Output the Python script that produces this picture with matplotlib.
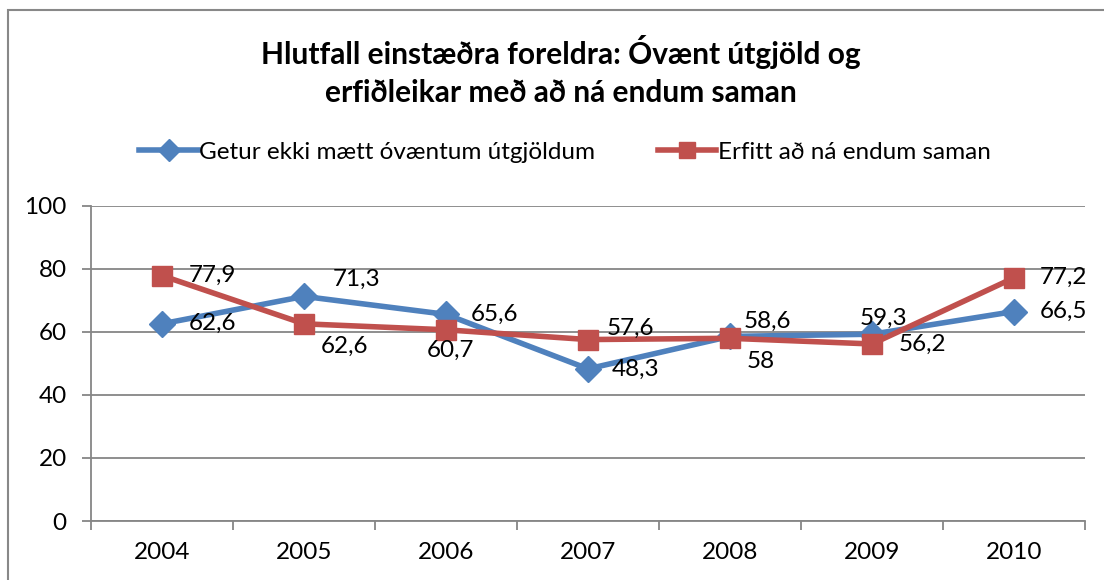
import matplotlib
matplotlib.use("Agg")
import matplotlib.pyplot as plt
from matplotlib.patches import Rectangle

plt.rcParams['font.family'] = ['Lato', 'DejaVu Sans']

years = ["2004", "2005", "2006", "2007", "2008", "2009", "2010"]
unexpected = [62.6, 71.3, 65.6, 48.3, 58.6, 59.3, 66.5]
hardship = [77.9, 62.6, 60.7, 57.6, 58.0, 56.2, 77.2]
unexpected_labels = ["62,6", "71,3", "65,6", "48,3", "58,6", "59,3", "66,5"]
hardship_labels = ["77,9", "62,6", "60,7", "57,6", "58", "56,2", "77,2"]
series_names = ["Getur ekki mætt óvæntum útgjöldum", "Erfitt að ná endum saman"]
title = "Hlutfall einstæðra foreldra: Óvænt útgjöld og\nerfiðleikar með að ná endum saman"

# label offsets in pixels (left edge x, vertical center y; y up positive)
off_blue = [(27, 0), (29, 17), (25, 0), (24, 0), (14, 15), (-12, 16), (26, 0)]
off_red = [(27, 0), (17, -23), (-19, -21), (19, 11), (17, -23), (27, 0), (26, 0)]

BLUE = "#4F81BD"
RED = "#C0504D"
GRID = "#868686"
FS = 17.5

fig = plt.figure(figsize=(11.04, 5.8), dpi=100)
fig.patches.append(Rectangle((8 / 1104, -0.1), 1.2, 1 - 10 / 580 + 0.1,
                             transform=fig.transFigure, fill=False,
                             edgecolor="#888888", linewidth=1.5))

ax = fig.add_axes([91 / 1104, 1 - 521 / 580, (1085 - 91) / 1104, (521 - 206) / 580])
x = list(range(len(years)))
ax.plot(x, unexpected, color=BLUE, lw=4, marker="D", markersize=13,
        label=series_names[0], zorder=3)
ax.plot(x, hardship, color=RED, lw=4, marker="s", markersize=14,
        label=series_names[1], zorder=4)

for xi, v, lab, off in zip(x, unexpected, unexpected_labels, off_blue):
    ax.annotate(lab, (xi, v), xytext=off, textcoords="offset pixels",
                ha="left", va="center", fontsize=FS, color="black", zorder=5)
for xi, v, lab, off in zip(x, hardship, hardship_labels, off_red):
    ax.annotate(lab, (xi, v), xytext=off, textcoords="offset pixels",
                ha="left", va="center", fontsize=FS, color="black", zorder=5)

ax.set_xlim(-0.5, len(years) - 0.5)
ax.set_ylim(0, 100)
ax.set_yticks(range(0, 101, 20))
ax.set_xticks(x)
ax.set_xticklabels(years)
ax.set_xticks([i - 0.5 for i in range(len(years) + 1)], minor=True)
ax.tick_params(axis="x", which="major", length=0, pad=15, labelsize=FS)
ax.tick_params(axis="x", which="minor", length=6.5, color=GRID, width=1.3)
ax.tick_params(axis="y", which="major", length=6.5, color=GRID, width=1.3,
               pad=11, labelsize=FS)
ax.grid(axis="y", color=GRID, lw=1.3)
ax.set_axisbelow(True)
for s in ["top", "right"]:
    ax.spines[s].set_visible(False)
for s in ["left", "bottom"]:
    ax.spines[s].set_color(GRID)
    ax.spines[s].set_linewidth(1.3)

fig.text(561 / 1104, 1 - 71 / 580, title, ha="center", va="center",
         fontsize=21.5, fontweight="bold", linespacing=1.45)

leg = fig.legend(loc="center", bbox_to_anchor=(565 / 1104, 1 - 152 / 580),
                 ncol=2, frameon=False, fontsize=17.5, handlelength=2.4,
                 handletextpad=0.05, columnspacing=2.6, markerscale=0.85)

fig.savefig("out.png", dpi=100)
